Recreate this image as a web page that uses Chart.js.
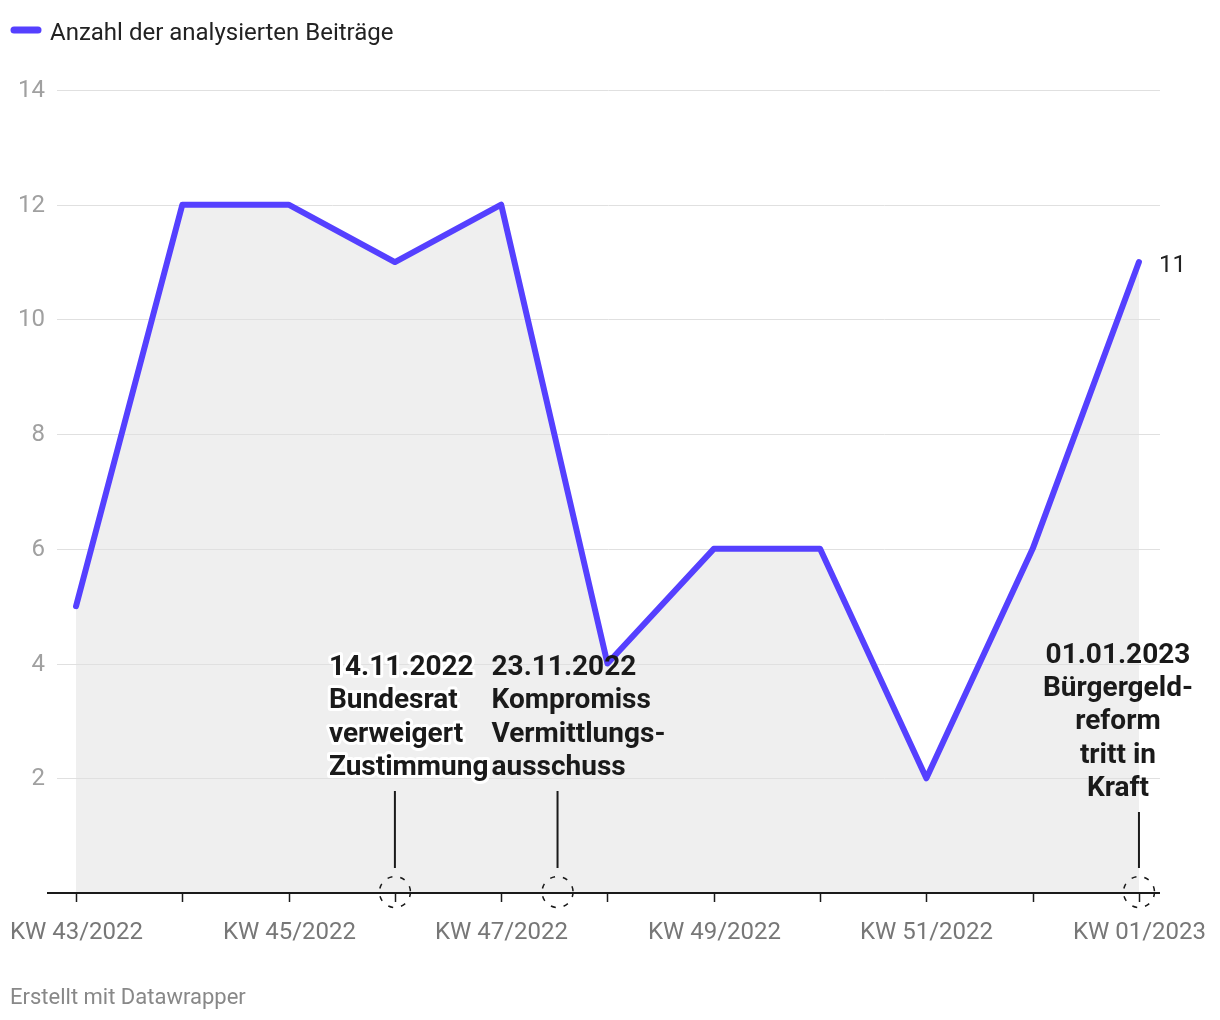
<!DOCTYPE html>
<html>
<head>
<meta charset="utf-8">
<script src="https://cdn.jsdelivr.net/npm/chart.js@4/dist/chart.umd.min.js"></script>
<style>
  html, body { margin: 0; padding: 0; background: #ffffff; }
  #wrap { width: 1220px; height: 1020px; position: relative; }
</style>
</head>
<body>
<div id="wrap"><canvas id="c" width="1220" height="1020"></canvas></div>
<script>
// ---- data ----
const categories = ['KW 43/2022','KW 44/2022','KW 45/2022','KW 46/2022','KW 47/2022','KW 48/2022','KW 49/2022','KW 50/2022','KW 51/2022','KW 52/2022','KW 01/2023'];
const values = [5, 12, 12, 11, 12, 4, 6, 6, 2, 6, 11];
const seriesName = 'Anzahl der analysierten Beiträge';
const yTicks = [2, 4, 6, 8, 10, 12, 14];
const annotationX = [3, 4.53, 10];
const annotationTexts = [
  ['14.11.2022', 'Bundesrat', 'verweigert', 'Zustimmung'],
  ['23.11.2022', 'Kompromiss', 'Vermittlungs-', 'ausschuss'],
  ['01.01.2023', 'Bürgergeld-', 'reform', 'tritt in', 'Kraft']
];
const footerText = 'Erstellt mit Datawrapper';

// ---- style ----
const LINE_COLOR = '#5540ff';
const FONT = 'Roboto, "Noto Sans", sans-serif';
const annoStyle = [
  { dx: -66, align: 'left', lineTop: 102, halo: true },
  { dx: -66, align: 'left', lineTop: 102, halo: false },
  { dx: -21, align: 'center', lineTop: 81, halo: false }
];

const points = values.map((v, i) => ({ x: i, y: v }));

const decor = {
  id: 'decor',
  afterDatasetDraw(chart, args) {
    if (args.index !== 1) return;
    const ctx = chart.ctx, y = chart.scales.y, area = chart.chartArea;
    ctx.save();
    ctx.strokeStyle = '#e0e0e0';
    ctx.lineWidth = 1;
    yTicks.forEach(t => {
      const py = Math.round(y.getPixelForValue(t)) + 0.5;
      ctx.beginPath(); ctx.moveTo(area.left, py); ctx.lineTo(area.right, py); ctx.stroke();
    });
    ctx.restore();
  },
  afterDraw(chart) {
    const ctx = chart.ctx, x = chart.scales.x, y = chart.scales.y, area = chart.chartArea;
    const y0 = y.getPixelForValue(0);
    ctx.save();
    // y tick labels
    ctx.font = '24px ' + FONT;
    ctx.fillStyle = '#a0a0a0';
    ctx.textAlign = 'right';
    ctx.textBaseline = 'middle';
    yTicks.forEach(t => ctx.fillText(String(t), 45, y.getPixelForValue(t) + 1));
    // x axis line
    ctx.strokeStyle = '#1a1a1a';
    ctx.lineWidth = 2;
    ctx.beginPath(); ctx.moveTo(47, y0); ctx.lineTo(area.right, y0); ctx.stroke();
    // tick marks & labels
    ctx.font = '24px ' + FONT;
    ctx.fillStyle = '#777777';
    ctx.textAlign = 'center';
    ctx.textBaseline = 'alphabetic';
    categories.forEach((c, i) => {
      const px = Math.round(x.getPixelForValue(i)) + 0.5;
      ctx.lineWidth = 1.5;
      ctx.beginPath(); ctx.moveTo(px, y0); ctx.lineTo(px, y0 + 9); ctx.stroke();
      if (i % 2 === 0) ctx.fillText(c, px, 939);
    });
    // annotations
    annotationX.forEach((ax, k) => {
      const px = x.getPixelForValue(ax);
      const st = annoStyle[k];
      // dashed circle
      ctx.strokeStyle = '#1a1a1a';
      ctx.lineWidth = 1.5;
      ctx.setLineDash([5, 8]);
      ctx.beginPath(); ctx.arc(px, y0 - 1, 15.5, 0, Math.PI * 2); ctx.stroke();
      ctx.setLineDash([]);
      // vertical connector
      ctx.lineWidth = 2;
      ctx.beginPath(); ctx.moveTo(px, y0 - st.lineTop); ctx.lineTo(px, y0 - 25); ctx.stroke();
      // text
      const lines = annotationTexts[k];
      const lh = 33.3;
      const lastBase = y0 - st.lineTop - 16;
      ctx.font = 'bold 28px ' + FONT;
      ctx.textAlign = st.align;
      ctx.textBaseline = 'alphabetic';
      ctx.lineJoin = 'round';
      if (st.halo) {
        lines.forEach((ln, j) => {
          const by = lastBase - (lines.length - 1 - j) * lh;
          ctx.strokeStyle = '#ffffff';
          ctx.lineWidth = 6;
          ctx.strokeText(ln, px + st.dx, by);
        });
      }
      ctx.fillStyle = '#1a1a1a';
      lines.forEach((ln, j) => {
        const by = lastBase - (lines.length - 1 - j) * lh;
        ctx.fillText(ln, px + st.dx, by);
      });
    });
    // last value label
    const li = values.length - 1;
    ctx.font = '24px ' + FONT;
    ctx.fillStyle = '#222222';
    ctx.textAlign = 'left';
    ctx.textBaseline = 'middle';
    ctx.fillText(String(values[li]), x.getPixelForValue(li) + 20, y.getPixelForValue(values[li]) + 4);
    // legend
    ctx.strokeStyle = LINE_COLOR;
    ctx.lineWidth = 7;
    ctx.lineCap = 'round';
    ctx.beginPath(); ctx.moveTo(14, 30); ctx.lineTo(38, 30); ctx.stroke();
    ctx.font = '24px ' + FONT;
    ctx.fillStyle = '#222222';
    ctx.textBaseline = 'alphabetic';
    ctx.fillText(seriesName, 50, 40);
    // footer
    ctx.font = '22px ' + FONT;
    ctx.fillStyle = '#888888';
    ctx.fillText(footerText, 10, 1004);
    ctx.restore();
  }
};

new Chart(document.getElementById('c'), {
  type: 'line',
  data: {
    datasets: [
      {
        label: seriesName,
        data: points,
        borderColor: LINE_COLOR,
        borderWidth: 6,
        borderCapStyle: 'round',
        borderJoinStyle: 'round',
        pointRadius: 0,
        tension: 0,
        fill: false,
        order: 0
      },
      {
        label: 'area',
        data: points,
        borderWidth: 0,
        borderColor: 'rgba(0,0,0,0)',
        backgroundColor: '#efefef',
        pointRadius: 0,
        tension: 0,
        fill: 'origin',
        order: 1
      }
    ]
  },
  options: {
    responsive: false,
    animation: false,
    events: [],
    layout: { padding: { left: 57, right: 60, top: 90, bottom: 127 } },
    plugins: { legend: { display: false }, tooltip: { enabled: false } },
    scales: {
      x: { type: 'linear', min: -0.179, max: 10.198, display: false },
      y: { type: 'linear', min: 0, max: 14, display: false }
    }
  },
  plugins: [decor]
});
</script>
</body>
</html>
